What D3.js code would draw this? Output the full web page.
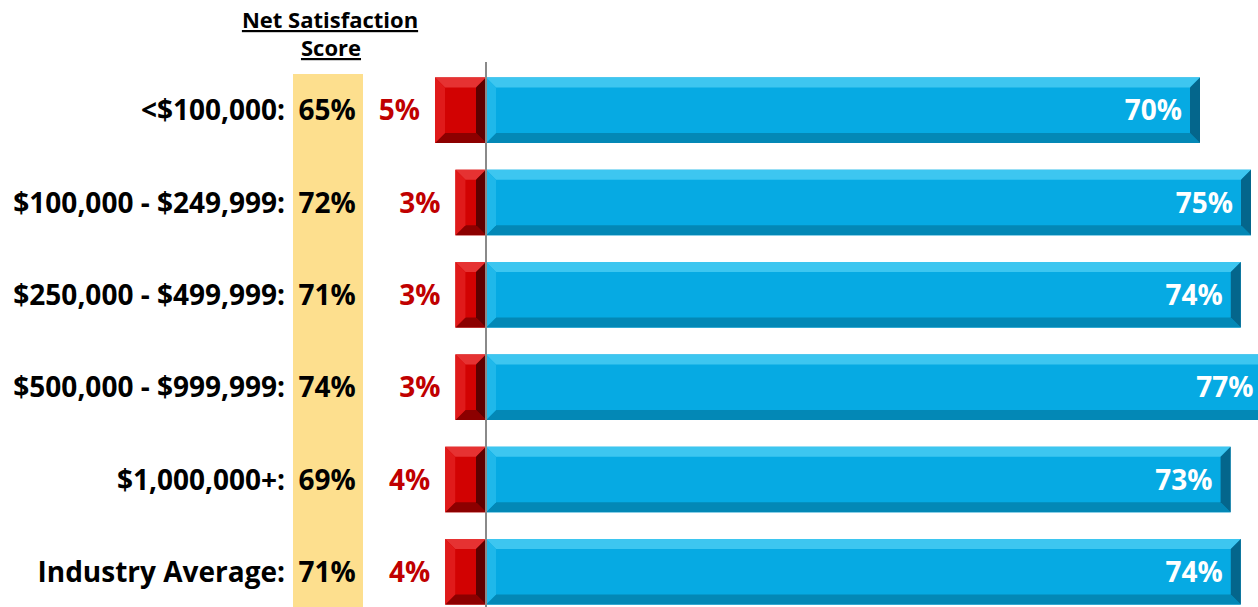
<!DOCTYPE html>
<html>
<head>
<meta charset="utf-8">
<script src="https://cdn.jsdelivr.net/npm/d3@7"></script>
<style>
  html, body { margin: 0; padding: 0; background: #fff; }
  svg { display: block; }
  text { font-family: "Open Sans", Lato, sans-serif; font-weight: 700; }
</style>
</head>
<body>
<svg id="chart" width="1258" height="607"></svg>
<script>
// Asset segments and their satisfaction results
const categories = ["<$100,000:", "$100,000 - $249,999:", "$250,000 - $499,999:", "$500,000 - $999,999:", "$1,000,000+:", "Industry Average:"];
const netScore = [65, 72, 71, 74, 69, 71];
const dissatisfied = [5, 3, 3, 3, 4, 4];
const satisfied = [70, 75, 74, 77, 73, 74];

const svg = d3.select("#chart");
const W = 1258, H = 607;

const x = d3.scaleLinear().domain([-10, 80]).range([384, 1302]);
const y = d3.scaleBand().domain(categories).range([64, 618]).paddingInner(0.29).paddingOuter(0.145);
const bw = y.bandwidth();

// Net satisfaction column band
svg.append("rect")
  .attr("x", 293).attr("y", 74).attr("width", 70).attr("height", H - 74)
  .attr("fill", "#FDDF8E");

// Column header
const hdr = svg.append("g").attr("font-size", 22).attr("text-anchor", "middle").attr("fill", "#000");
hdr.append("text").attr("x", 330).attr("y", 28).text("Net Satisfaction").style("text-decoration", "underline");
hdr.append("text").attr("x", 331).attr("y", 56).text("Score").style("text-decoration", "underline");

// Bevelled bar: flat face plus four shaded edges
function bevelBar(g, x0, x1, y0, h, c) {
  const b = Math.min(10, (x1 - x0) / 2, h / 2);
  const y1 = y0 + h;
  g.append("rect").attr("x", x0).attr("y", y0).attr("width", x1 - x0).attr("height", h).attr("fill", c.face);
  const poly = (pts, fill) => g.append("polygon").attr("points", pts.map(p => p.join(",")).join(" ")).attr("fill", fill);
  poly([[x0, y0], [x1, y0], [x1 - b, y0 + b], [x0 + b, y0 + b]], c.top);
  poly([[x0, y1], [x1, y1], [x1 - b, y1 - b], [x0 + b, y1 - b]], c.bottom);
  poly([[x0, y0], [x0 + b, y0 + b], [x0 + b, y1 - b], [x0, y1]], c.left);
  poly([[x1, y0], [x1 - b, y0 + b], [x1 - b, y1 - b], [x1, y1]], c.right);
}

const blue = { face: "#06AAE3", top: "#3DC6F0", bottom: "#0388B6", left: "#1FB8EA", right: "#04668C" };
const red = { face: "#D20202", top: "#E63232", bottom: "#8C0000", left: "#E01A1A", right: "#5E0000" };

const rows = svg.append("g").selectAll("g").data(categories).join("g");

rows.each(function(cat, i) {
  const g = d3.select(this);
  const top = y(cat);
  bevelBar(g, x(-dissatisfied[i]), x(0), top, bw, red);
  bevelBar(g, x(0), x(satisfied[i]), top, bw, blue);
});

const cy = c => y(c) + bw / 2 + 10;
const fs = 28;

// Category labels
svg.append("g").attr("font-size", fs).attr("text-anchor", "end").attr("fill", "#000")
  .selectAll("text").data(categories).join("text")
  .attr("x", 285).attr("y", d => cy(d)).text(d => d);

// Net satisfaction scores
svg.append("g").attr("font-size", fs).attr("text-anchor", "middle").attr("fill", "#000")
  .selectAll("text").data(categories).join("text")
  .attr("x", 327).attr("y", d => cy(d)).text((d, i) => netScore[i] + "%");

// Dissatisfied value labels
svg.append("g").attr("font-size", fs).attr("text-anchor", "end").attr("fill", "#C00000")
  .selectAll("text").data(categories).join("text")
  .attr("x", (d, i) => x(-dissatisfied[i]) - 15).attr("y", d => cy(d)).text((d, i) => dissatisfied[i] + "%");

// Satisfied value labels inside bars
svg.append("g").attr("font-size", fs).attr("text-anchor", "end").attr("fill", "#fff")
  .selectAll("text").data(categories).join("text")
  .attr("x", (d, i) => x(satisfied[i]) - 18).attr("y", d => cy(d)).text((d, i) => satisfied[i] + "%");

// Zero axis
svg.append("line")
  .attr("x1", x(0)).attr("x2", x(0)).attr("y1", 62).attr("y2", H)
  .attr("stroke", "#8a8a8a").attr("stroke-width", 2);
</script>
</body>
</html>
